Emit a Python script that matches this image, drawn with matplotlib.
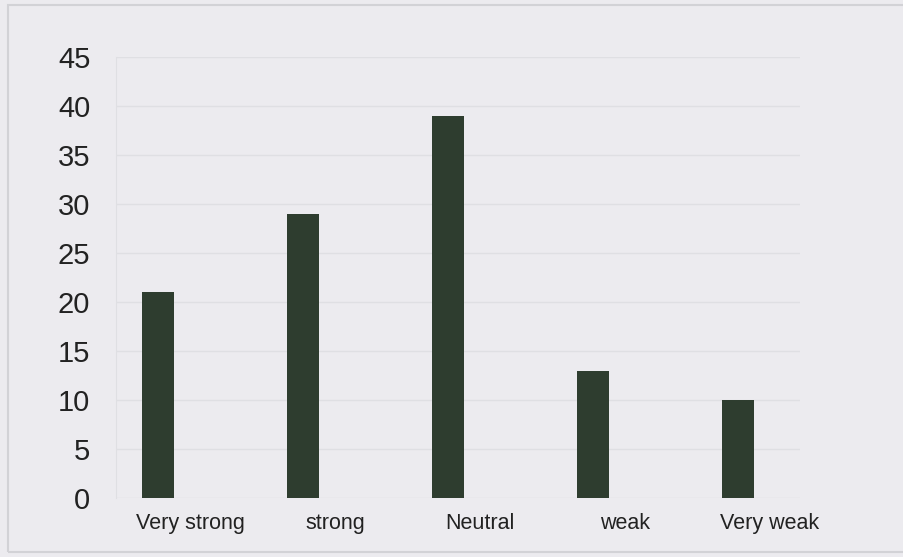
import matplotlib
matplotlib.use("Agg")
import matplotlib.pyplot as plt
import matplotlib.transforms as mtransforms
from matplotlib.patches import Rectangle

categories = ["Very strong", "strong", "Neutral", "weak", "Very weak"]
values = [21, 29, 39, 13, 10]
yticks = [0, 5, 10, 15, 20, 25, 30, 35, 40, 45]

plt.rcParams['font.family'] = ['Liberation Sans', 'DejaVu Sans']
bg = '#ecebef'
fig = plt.figure(figsize=(9.04, 5.57), dpi=100, facecolor=bg)
fig.patches.append(Rectangle((8/904, 5/557), 1, 1 - 10/557, transform=fig.transFigure,
                             fill=False, edgecolor='#d2d2d6', linewidth=1.5))
ax = fig.add_axes([116/904, 1 - 498/557, (800 - 116)/904, (498 - 57)/557])
ax.set_facecolor(bg)
x = list(range(len(categories)))
ax.bar(x, values, width=0.22, color='#2e3d2f', zorder=3)
ax.set_xlim(-0.29, 4.43)
ax.set_ylim(0, 45)
ax.set_yticks(yticks)
ax.set_yticklabels([str(v) for v in yticks], fontsize=21, color='#222222')
ax.yaxis.grid(True, color='#dfdfe3', linewidth=1)
ax.set_axisbelow(True)
for s in ['top', 'right', 'bottom']:
    ax.spines[s].set_visible(False)
ax.spines['left'].set_color('#dfdfe3')
ax.tick_params(axis='y', length=0, pad=18.5)
ax.tick_params(axis='x', length=0, pad=11)
ax.set_xticks(x)
ax.set_xticklabels(categories, fontsize=15.5, color='#222222')
for lbl in ax.get_xticklabels():
    lbl.set_transform(lbl.get_transform() + mtransforms.ScaledTranslation(32/100, 0, fig.dpi_scale_trans))
fig.savefig("out.png", dpi=100, facecolor=bg)
